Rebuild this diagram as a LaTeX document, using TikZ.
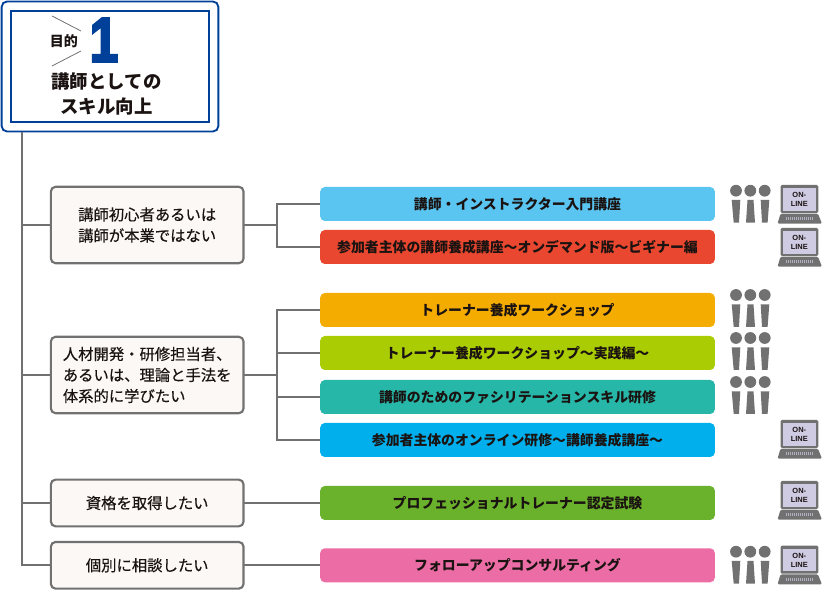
\documentclass[tikz,border=0pt]{standalone}
\usepackage{fontspec}
\setmainfont{Noto Sans CJK JP}
\newfontfamily\latinfont{Liberation Sans}
\newfontfamily\numfont[BoldFeatures={FakeBold=4,FakeStretch=0.8}]{Liberation Sans}
\newfontfamily\casefont[FakeBold=0.4]{Noto Sans CJK JP}
\usetikzlibrary{positioning}
\definecolor{goalblue}{HTML}{004098}
\definecolor{linegray}{HTML}{727171}
\definecolor{iconlilac}{HTML}{CFCBE3}
\definecolor{casefill}{HTML}{FBF8F5}
\definecolor{inkblack}{HTML}{1A1311}
\definecolor{cSky}{HTML}{5BC5F2}
\definecolor{cRed}{HTML}{E9472F}
\definecolor{cOrange}{HTML}{F5AC00}
\definecolor{cLime}{HTML}{AACC03}
\definecolor{cTeal}{HTML}{26B7A8}
\definecolor{cBlue}{HTML}{00AFEC}
\definecolor{cGreen}{HTML}{6BB22C}
\definecolor{cPink}{HTML}{EC6CA5}
\tikzset{
  every node/.append style={text=inkblack},
  casebox/.style={rectangle, rounded corners=3.5pt, draw=linegray, line width=1.6pt, fill=casefill,
                  minimum width=144.5pt, align=center, font=\fontsize{11.5}{15.75}\casefont, outer sep=0pt},
  course/.style={rectangle, rounded corners=3.5pt, draw=none, minimum width=296pt, minimum height=25.5pt,
                 align=center, inner sep=0pt, outer sep=0pt, font=\fontsize{10.4}{12}\selectfont\bfseries},
  conn/.style={draw=linegray, line width=1.7pt},
  pics/people/.style={code={
    \fill[linegray] (6,2) circle (5.9) (20.3,2) circle (5.9) (34.7,2) circle (5.9);
    \fill[linegray] (1.7,11.3) -- (10.3,11.3) -- (9,34) -- (3.7,34) -- cycle;
    \fill[linegray] (17.5,11.3) -- (23.5,11.3) -- (25,34) -- (16,34) -- cycle;
    \fill[linegray] (30.7,11.3) -- (39.3,11.3) -- (37.6,34) -- (32,34) -- cycle;
  }},
  pics/laptop/.style={code={
    \fill[linegray, rounded corners=1pt] (3,0) rectangle (40.8,28);
    \fill[iconlilac] (5.8,3) rectangle (38,25.7);
    \fill[linegray, rounded corners=1pt] (3,28.7) -- (40.5,28.7) -- (44.5,38.7) -- (0,38.7) -- cycle;
    \draw[iconlilac!70!linegray, line width=2.4pt, dash pattern=on .8pt off .7pt] (8.5,33.8) -- (36,33.8);
    \node[inner sep=0pt, font=\fontsize{5.6}{6.4}\latinfont\bfseries, align=center] (-label) at (21.8,14.5) {ON-\\LINE};
  }}
}

\begin{document}
\begin{tikzpicture}[x=0.75pt, y=-0.75pt]
\useasboundingbox (0,0) rectangle (822,591);

% ============= Goal =============
\node[rectangle, rounded corners=4pt, draw=goalblue, line width=1.4pt, fill=white,
      minimum width=162.5pt, minimum height=97.5pt, outer sep=0pt] (goal) at (110,66.5) {};
\node[rectangle, draw=goalblue, line width=1.6pt, fill=white,
      minimum width=148pt, minimum height=83pt, outer sep=0pt] (goalinner) at (110,66.5) {};
\node[font=\fontsize{10.5}{12}\selectfont\bfseries, inner sep=0pt] (goaltag) at (64,41) {目的};
\node[font=\fontsize{47}{47}\numfont\bfseries, text=goalblue, inner sep=0pt] (goalnum) at (104,40) {1};
\node[font=\fontsize{13.8}{18.75}\selectfont\bfseries, align=center, inner sep=0pt] (goaltext) at (106.5,94) {講師としての\\スキル向上};
\draw[linegray, line width=0.6pt] (52,16) -- (81,31) (81,51) -- (52,66);

% ============= Who =============
\node[casebox, minimum height=57.3pt] (caseA) at (147.2,225) {講師初心者あるいは\\講師が本業ではない};
\node[casebox, minimum height=57.3pt, align=left] (caseB) at (147.2,375) {人材開発・研修担当者、\\あるいは、理論と手法を\\体系的に学びたい};
\node[casebox, minimum height=35pt] (caseC) at (147.2,503) {資格を取得したい};
\node[casebox, minimum height=35pt] (caseD) at (147.2,565.3) {個別に相談したい};

% ============= Courses =============
\node[course, fill=cSky] (courseA) at (517.5,204) {講師・インストラクター入門講座};
\node[course, fill=cRed, below=6.75pt of courseA] (courseB) {参加者主体の講師養成講座～オンデマンド版～ビギナー編};
\node[course, fill=cOrange] (courseC) at (517.5,310) {トレーナー養成ワークショップ};
\node[course, fill=cLime, below=6.75pt of courseC] (courseD) {トレーナー養成ワークショップ～実践編～};
\node[course, fill=cTeal, below=7.5pt of courseD] (courseE) {講師のためのファシリテーションスキル研修};
\node[course, fill=cBlue, below=6.75pt of courseE] (courseF) {参加者主体のオンライン研修～講師養成講座～};
\node[course, fill=cGreen] (courseG) at (517.5,503) {プロフェッショナルトレーナー認定試験};
\node[course, fill=cPink] (courseH) at (517.5,565.3) {フォローアップコンサルティング};

% ============= Connectors =============
\coordinate (trunk) at (22,132);
\coordinate (forkA) at (277,225);
\coordinate (forkB) at (277,375);
\draw[conn] (trunk) |- (caseD.west);
\draw[conn] (trunk |- caseA.west) -- (caseA.west);
\draw[conn] (trunk |- caseB.west) -- (caseB.west);
\draw[conn] (trunk |- caseC.west) -- (caseC.west);
\draw[conn] (caseA.east) -- (forkA);
\draw[conn] (forkA) |- (courseA.west);
\draw[conn] (forkA) |- (courseB.west);
\draw[conn] (caseB.east) -- (forkB);
\draw[conn] (forkB) |- (courseC.west);
\draw[conn] (forkB) |- (courseD.west);
\draw[conn] (forkB) |- (courseE.west);
\draw[conn] (forkB) |- (courseF.west);
\draw[conn] (caseC.east) -- (courseG.west);
\draw[conn] (caseD.east) -- (courseH.west);

% ============= Icons =============
\pic (peopleA) at (730,188.7) {people};
\pic (lapA) at (777.5,185) {laptop};
\pic (lapB) at (777.5,228) {laptop};
\pic (peopleC) at (730,293) {people};
\pic (peopleD) at (730,336) {people};
\pic (peopleE) at (730,380) {people};
\pic (lapF) at (777.5,420) {laptop};
\pic (lapG) at (777.5,481) {laptop};
\pic (peopleH) at (730,549.7) {people};
\pic (lapH) at (777.5,545.7) {laptop};

\end{tikzpicture}
\end{document}
